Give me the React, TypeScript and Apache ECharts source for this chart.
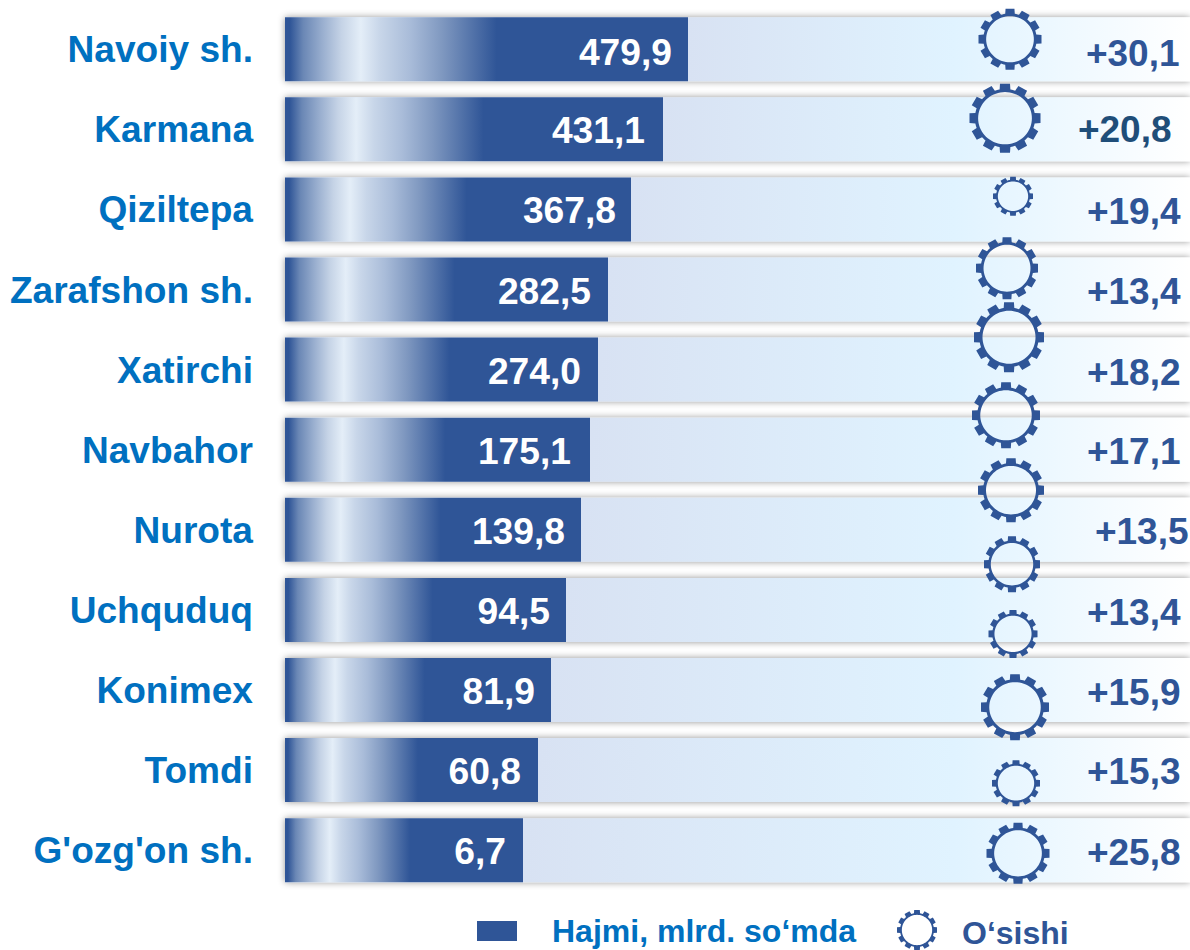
import React, { useEffect, useRef } from "react";
import * as echarts from "echarts";

const categories = ["Navoiy sh.", "Karmana", "Qiziltepa", "Zarafshon sh.", "Xatirchi", "Navbahor", "Nurota", "Uchquduq", "Konimex", "Tomdi", "G'ozg'on sh."];
const volumeLabels = ["479,9", "431,1", "367,8", "282,5", "274,0", "175,1", "139,8", "94,5", "81,9", "60,8", "6,7"];
const barLengths = [403, 378, 346, 323, 313, 305, 296, 281, 266, 253, 238];
const labelShiftX = [0, -2, 1, -1, -1, -3, 0, 0, 0, -1, -1];
const labelShiftY = [3, 1, 1, 1, 1, 1, 1, 1, 1, 1, 1];
const growthLabels = ["+30,1", "+20,8", "+19,4", "+13,4", "+18,2", "+17,1", "+13,5", "+13,4", "+15,9", "+15,3", "+25,8"];
const growthX = [895, 887, 896, 896, 896, 896, 904, 896, 896, 896, 896];
const growthRows = [0.05, 0, 0.03, 0.02, 0.03, 0.02, 0.02, 0.03, 0.03, 0.02, 0.03];
const growthColors = ["#2F5597", "#1F4E79", "#2F5597", "#2F5597", "#2F5597", "#2F5597", "#2F5597", "#2F5597", "#2F5597", "#2F5597", "#2F5597"];
const gearX = [725, 720, 728, 722, 724, 721, 726, 727, 728, 730, 731, 733];
const gearRows = [-0.125, 0.861, 1.835, 2.734, 3.596, 4.57, 5.506, 6.43, 7.3, 8.215, 9.164, 10.04];
const gearW = [63, 71, 40, 62, 70, 68, 66, 56, 49, 68, 48, 63];
const gearH = [61, 69, 39, 62, 70, 66, 64, 56, 48, 66, 46, 61];
const seriesNames = ["Hajmi, mlrd. so‘mda", "O‘sishi"];
const AXIS_FULL = 905;

function gearPath(): string {
  const teeth = 12, rOut = 1, rRoot = 0.84, rHole = 0.75;
  const pts: string[] = [];
  const pt = (r: number, a: number) => `${(r * Math.sin(a) * 100).toFixed(2)} ${(-r * Math.cos(a) * 100).toFixed(2)}`;
  const step = (Math.PI * 2) / teeth;
  const tip = 0.14, base = 0.18;
  for (let i = 0; i < teeth; i++) {
    const c = i * step;
    pts.push(pt(rRoot, c - base), pt(rOut, c - tip), pt(rOut, c + tip), pt(rRoot, c + base));
    const n = 3;
    for (let k = 1; k < n; k++) pts.push(pt(rRoot, c + base + ((step - 2 * base) * k) / n));
  }
  const hole: string[] = [];
  for (let i = 0; i < 72; i++) hole.push(pt(rHole, (-i * Math.PI * 2) / 72));
  return `path://M${pts.join("L")}ZM${hole.join("L")}Z`;
}

export default function App() {
  const ref = useRef<HTMLDivElement>(null);
  useEffect(() => {
    const chart = echarts.init(ref.current!, undefined, { renderer: "svg" });
    const font = "Liberation Sans";
    const gear = gearPath();
    const dark = "#2F5597";
    chart.setOption({
      animation: false,
      backgroundColor: "#fff",
      grid: { left: 285, right: 0, top: 9.2, height: 881 },
      xAxis: { type: "value", min: 0, max: AXIS_FULL, show: false },
      yAxis: [
        {
          type: "category",
          inverse: true,
          data: categories,
          axisLine: { show: false },
          axisTick: { show: false },
          axisLabel: { margin: 32, fontFamily: font, fontSize: 37.1, fontWeight: "bold", color: "#0070C0", padding: [0, 0, 5, 0] },
        },
        { type: "value", inverse: true, min: -0.5, max: 10.5, show: false },
      ],
      legend: [
        {
          left: 477,
          top: 915,
          padding: 0,
          itemWidth: 40,
          itemHeight: 20,
          selectedMode: false,
          data: [
            {
              name: seriesNames[0],
              icon: "rect",
              itemStyle: { color: dark, shadowBlur: 0, shadowColor: "transparent" },
              textStyle: { fontFamily: font, fontSize: 32, fontWeight: "bold", color: "#0070C0", padding: [4, 0, 0, 30] },
            },
          ],
        },
        {
          left: 897,
          top: 910,
          padding: 0,
          itemWidth: 40,
          itemHeight: 40,
          selectedMode: false,
          formatter: "{a|{name}}",
          textStyle: {
            rich: {
              a: { fontFamily: font, fontSize: 32, fontWeight: "bold", color: dark, padding: [6, 0, 0, 20] },
            },
          },
          data: [
            {
              name: seriesNames[1],
              icon: gear,
              itemStyle: { color: dark },
            },
          ],
        },
      ],
      series: [
        {
          type: "bar",
          name: "track",
          barWidth: 64,
          barGap: "-100%",
          silent: true,
          data: barLengths.map((len) => ({
            value: AXIS_FULL,
            itemStyle: {
              color: new echarts.graphic.LinearGradient(0, 0, 1, 0, [
                { offset: 0, color: "#D8E2F3" },
                { offset: len / AXIS_FULL, color: "#D8E2F3" },
                { offset: 0.74, color: "#E0F3FF" },
                { offset: 1, color: "#FFFFFF" },
              ]),
              shadowBlur: 7,
              shadowColor: "rgba(0,0,0,0.42)",
            },
          })),
        },
        {
          type: "bar",
          name: seriesNames[0],
          barWidth: 64,
          barGap: "-100%",
          z: 3,
          data: barLengths.map((v, i) => ({
            value: v,
            label: {
              show: true,
              position: "insideRight",
              distance: 16,
              offset: [labelShiftX[i], labelShiftY[i]],
              formatter: volumeLabels[i],
              fontFamily: font,
              fontSize: 37.2,
              fontWeight: "bold",
              color: "#fff",
            },
          })),
          itemStyle: {
            color: new echarts.graphic.LinearGradient(0, 0, 1, 0, [
              { offset: 0, color: dark },
              { offset: 0.012, color: dark },
              { offset: 0.045, color: "#6A87B5" },
              { offset: 0.095, color: "#9BB0D0" },
              { offset: 0.14, color: "#C5D3E6" },
              { offset: 0.188, color: "#E4EEF8" },
              { offset: 0.235, color: "#C8D6E9" },
              { offset: 0.31, color: "#A9BCD9" },
              { offset: 0.39, color: "#7F98C0" },
              { offset: 0.525, color: dark },
              { offset: 1, color: dark },
            ]),
          },
        },
        {
          type: "scatter",
          name: seriesNames[1],
          yAxisIndex: 1,
          z: 5,
          symbol: gear,
          data: gearX.map((x, i) => ({ value: [x, gearRows[i]], symbolSize: [gearW[i], gearH[i]] })),
          itemStyle: { color: dark, opacity: 1 },
        },
        {
          type: "scatter",
          name: "growth",
          yAxisIndex: 1,
          z: 6,
          symbolSize: 1,
          itemStyle: { color: "transparent", opacity: 1 },
          data: growthX.map((x, i) => ({
            value: [x, i + growthRows[i]],
            label: {
              show: true,
              position: "left",
              distance: 0,
              formatter: growthLabels[i],
              fontFamily: font,
              fontSize: 37,
              fontWeight: "bold",
              color: growthColors[i],
              opacity: 1,
            },
          })),
        },
      ],
    });
    return () => chart.dispose();
  }, []);
  return <div ref={ref} style={{ position: "absolute", left: 0, top: 0, width: 1190, height: 950 }} />;
}
